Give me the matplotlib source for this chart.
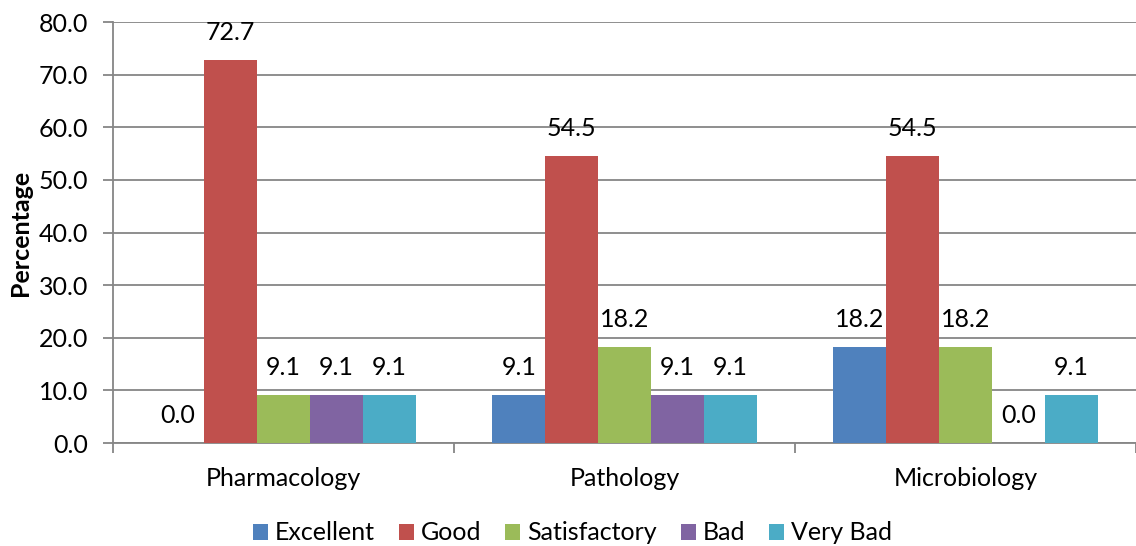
import numpy as np
import matplotlib.pyplot as plt

plt.rcParams['font.family'] = ['Lato', 'DejaVu Sans']

subjects = ["Pharmacology", "Pathology", "Microbiology"]
ratings = ["Excellent", "Good", "Satisfactory", "Bad", "Very Bad"]
excellent = [0.0, 9.1, 18.2]
good = [72.7, 54.5, 54.5]
satisfactory = [9.1, 18.2, 18.2]
bad = [9.1, 9.1, 0.0]
very_bad = [9.1, 9.1, 9.1]
series = [excellent, good, satisfactory, bad, very_bad]
colors = ["#4F81BD", "#C0504D", "#9BBB59", "#8064A2", "#4BACC6"]

fs = 18
fig = plt.figure(figsize=(11.36, 5.46), dpi=100)
ax = fig.add_axes([0.0995, 0.1886, 0.9005, 0.7711])

x = np.arange(len(subjects))
w = 0.155
for i, (vals, name, c) in enumerate(zip(series, ratings, colors)):
    pos = x + (i - 2) * w
    ax.bar(pos, vals, w, color=c, label=name, zorder=3)
    for px, v in zip(pos, vals):
        ax.text(px, v + 5.3, f"{v:.1f}", ha='center', va='center', fontsize=fs, zorder=4)

ax.set_ylim(0, 80)
ax.set_yticks(np.arange(0, 81, 10))
ax.set_yticklabels([f"{t:.1f}" for t in np.arange(0, 81, 10)], fontsize=fs)
ax.set_xlim(-0.5, 2.478)
ax.set_xticks(x)
ax.set_xticklabels(subjects, fontsize=fs)
ax.tick_params(axis='x', length=0, pad=17)
ax.set_xticks([-0.5, 0.5, 1.5, 2.5], minor=True)
ax.tick_params(axis='x', which='minor', length=7, color='#868686', width=1.3)
ax.tick_params(axis='y', length=7, color='#868686', width=1.3, pad=11)
ax.grid(axis='y', color='#868686', linewidth=1.3, zorder=0)
for s in ['top', 'right']:
    ax.spines[s].set_visible(False)
for s in ['left', 'bottom']:
    ax.spines[s].set_color('#868686')
    ax.spines[s].set_linewidth(1.3)
ax.set_ylabel("Percentage", fontsize=fs, fontweight='bold', labelpad=5)

fig.legend(loc='center', bbox_to_anchor=(0.504, 0.024), ncol=5, frameon=False,
           fontsize=fs, handlelength=0.6, handleheight=0.6, handletextpad=0.28,
           columnspacing=0.95, borderpad=0)

fig.savefig("out.png", dpi=100)
